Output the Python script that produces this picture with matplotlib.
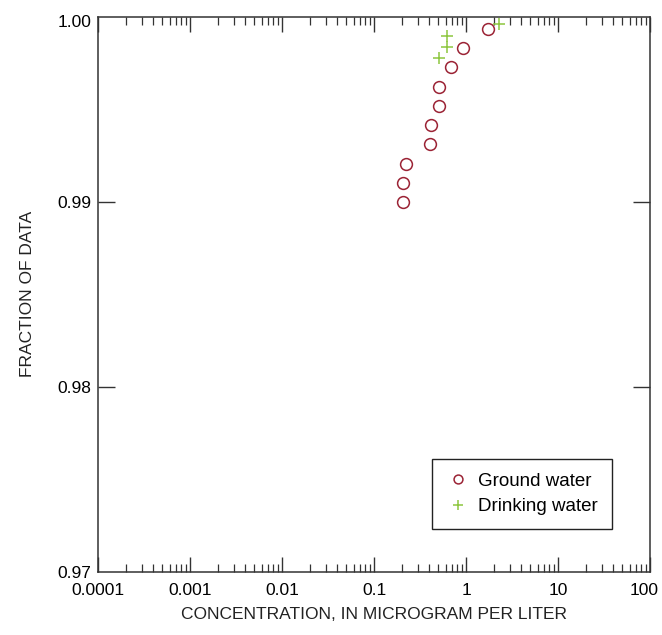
import numpy as np
import matplotlib
matplotlib.use("Agg")
from matplotlib import pyplot as plt
from matplotlib import transforms
from matplotlib.ticker import LogLocator, FixedLocator, NullFormatter

plt.rcParams['font.family'] = ['Liberation Sans', 'DejaVu Sans']

# ground water detections (concentration, fraction of data)
gw_conc = [0.205, 0.205, 0.22, 0.41, 0.42, 0.51, 0.51, 0.69, 0.935, 1.75]
gw_frac = [0.99000, 0.99104, 0.99207, 0.99312, 0.99415, 0.99519, 0.99623, 0.99728, 0.99831, 0.99935]

# drinking water detections
dw_conc = [0.51, 0.62, 0.62, 2.3]
dw_frac = [0.99780, 0.99839, 0.99899, 0.99961]

x_ticks = [0.0001, 0.001, 0.01, 0.1, 1, 10, 100]
x_labels = ['0.0001', '0.001', '0.01', '0.1', '1', '10', '100']
y_ticks = [0.98, 0.99]
y_labels = ['0.98', '0.99']
y_lim = (0.97, 1.00)

fs = 12.5

fig = plt.figure(figsize=(6.62, 6.35), dpi=100)
ax = fig.add_axes([0.148, 0.100, 0.834, 0.873])

ax.plot(gw_conc, gw_frac, linestyle='none', marker='o', markersize=8.5,
        markerfacecolor='none', markeredgecolor='#9b2335', markeredgewidth=1.1,
        label='Ground water', clip_on=False)
ax.plot(dw_conc, dw_frac, linestyle='none', marker='+', markersize=9,
        markeredgecolor='#8dc63f', markeredgewidth=1.1,
        label='Drinking water', clip_on=False)

ax.set_xscale('log')
ax.set_xlim(0.0001, 100)
ax.set_ylim(*y_lim)
ax.set_xticks(x_ticks)
ax.set_xticklabels(x_labels)
ax.xaxis.set_minor_locator(LogLocator(base=10, subs=np.arange(2, 10)))
ax.xaxis.set_minor_formatter(NullFormatter())
ax.set_yticks(y_ticks)
ax.set_yticklabels(y_labels)
ax.yaxis.set_minor_locator(FixedLocator([]))

# end labels on the y axis, sitting a little below the frame corners
ax.text(-0.012, 0.0, '%.2f' % y_lim[0], fontsize=fs, ha='right', va='center',
        transform=ax.transAxes + transforms.ScaledTranslation(0, -2 / 100, fig.dpi_scale_trans))
ax.text(-0.012, 1.0, '%.2f' % y_lim[1], fontsize=fs, ha='right', va='center',
        transform=ax.transAxes + transforms.ScaledTranslation(0, -5 / 100, fig.dpi_scale_trans))

ax.tick_params(axis='x', which='major', direction='in', length=11, width=1,
               top=True, bottom=True, labelsize=fs, pad=8, color='#333333')
ax.tick_params(axis='x', which='minor', direction='in', length=5.5, width=0.9,
               top=True, bottom=True, color='#333333')
ax.tick_params(axis='y', which='major', direction='in', length=12, width=1,
               left=True, right=True, labelsize=fs, pad=5, color='#333333')

# keep the last x label inside the picture
last = ax.get_xticklabels()[-1]
last.set_transform(last.get_transform() +
                   transforms.ScaledTranslation(-6 / 100, 0, fig.dpi_scale_trans))

for s in ax.spines.values():
    s.set_linewidth(1.1)
    s.set_color('#333333')

ax.set_xlabel('CONCENTRATION, IN MICROGRAM PER LITER', fontsize=fs, labelpad=7, color='#222222')
ax.set_ylabel('FRACTION OF DATA', fontsize=fs, labelpad=16, color='#222222')

leg = ax.legend(loc='lower right', bbox_to_anchor=(0.931, 0.076), fontsize=13.5,
                fancybox=False, edgecolor='#222222', framealpha=1,
                handlelength=1.3, handletextpad=0.4, borderpad=0.75,
                labelspacing=0.45, markerscale=0.75, borderaxespad=0)
leg.get_frame().set_linewidth(1.0)

fig.savefig("out.png", dpi=100)
